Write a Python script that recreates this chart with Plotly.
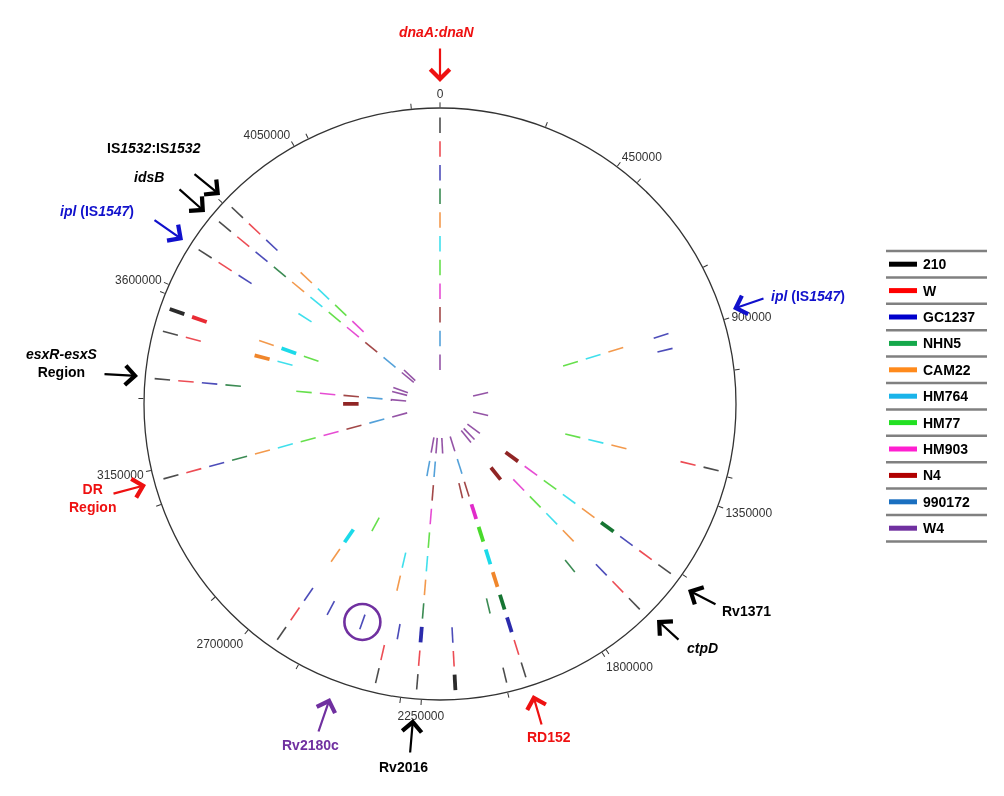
import plotly.graph_objects as go

GENOME_LEN = 4411532

# strains, outermost track first
strains = ["210", "W", "GC1237", "NHN5", "CAM22", "HM764", "HM77", "HM903", "N4", "990172", "W4"]
legend_colors = ["#000000", "#ff0000", "#0000cc", "#14a84a", "#ff8a1c", "#1ab4ea",
                 "#22e022", "#ff1fd0", "#b00000", "#1a6fc0", "#7030a0"]
track_colors = ["#202020", "#e8202a", "#2020a8", "#0a6e28", "#f08020", "#10d8e8",
                "#40d820", "#e020c8", "#8b1a1a", "#2a8ad0", "#7a2a90"]

# hit positions (bp) per strain
hits_210 = [0, 1268000, 1548000, 1664000, 1992000, 2041000, 2263000, 2365000, 2630000,
            3123000, 3371000, 3489000, 3708000, 3793000, 3840000]
hits_W = [0, 1268000, 1548000, 1664000, 1992000, 2168000, 2263000, 2365000, 2630000,
          3123000, 3371000, 3489000, 3708000, 3793000, 3840000]
hits_GC1237 = [0, 893000, 938000, 1548000, 1664000, 2168000, 2332000, 2446000, 2551000,
               2630000, 3123000, 3371000, 3708000, 3793000, 3840000]
hits_NHN5 = [0, 1731000, 2041000, 2263000, 3123000, 3371000, 3793000]
hits_CAM22 = [0, 893000, 1268000, 1548000, 1664000, 2263000, 2365000, 2630000, 3123000,
              3546000, 3793000, 3840000]
hits_HM764 = [0, 893000, 1268000, 1548000, 1664000, 2263000, 2365000, 3123000, 3489000,
              3708000, 3793000, 3840000]
hits_HM77 = [0, 893000, 1268000, 1548000, 1664000, 2263000, 2551000, 3123000, 3371000,
             3546000, 3793000, 3840000]
hits_HM903 = [0, 1548000, 1664000, 2263000, 3123000, 3371000, 3793000, 3840000]
hits_N4 = [0, 1992000, 2041000, 2263000, 3123000, 3371000, 3793000]
hits_990172 = [0, 1992000, 2263000, 2332000, 3123000, 3371000, 3793000]
hits_W4 = [0, 938000, 1268000, 1548000, 1664000, 1731000, 1992000, 2168000, 2263000,
           2332000, 3123000, 3371000, 3489000, 3546000, 3793000, 3840000]

# larger regions (drawn thick)
big_210 = [2168000, 3546000]
big_W = [3546000]
big_GC1237 = [1992000, 2263000]
big_NHN5 = [1548000, 1992000]
big_CAM22 = [1992000, 3489000]
big_HM764 = [1992000, 2630000, 3546000]
big_HM77 = [1992000]
big_HM903 = [1992000]
big_N4 = [1548000, 1731000, 3309000]
big_990172 = []
big_W4 = []

circled_strain = "GC1237"
circled_pos = 2446000

major_ticks = [0, 450000, 900000, 1350000, 1800000, 2250000, 2700000, 3150000, 3600000, 4050000]
minor_ticks = [255500, 511000, 766500, 1022000, 1277500, 1533000, 1788500, 2044000, 2299500,
               2555000, 2810500, 3066000, 3321500, 3577000, 3832500, 4088000, 4343500]

hits = [hits_210, hits_W, hits_GC1237, hits_NHN5, hits_CAM22, hits_HM764, hits_HM77,
        hits_HM903, hits_N4, hits_990172, hits_W4]
bigs = [big_210, big_W, big_GC1237, big_NHN5, big_CAM22, big_HM764, big_HM77,
        big_HM903, big_N4, big_990172, big_W4]

# page is 1004x796 and the html body has an 8px margin
PAD = 8
W, H = 1004 - PAD, 796 - PAD
R_MAX = 296          # radial units = pixels of the outer circle
RING_INNER = 34
RING_STEP = 23.7
DASH = 15.5
FONT = "Liberation Sans, Arial, sans-serif"


def deg(p):
    return 360.0 * p / GENOME_LEN


def ring_r0(k):
    return RING_INNER + RING_STEP * (len(strains) - 1 - k)


def px(x, y):
    # screen pixel -> paper coords
    return (x - PAD) / W, 1 - (y - PAD) / H


fig = go.Figure()
for k, name in enumerate(strains):
    r0 = ring_r0(k)
    for positions, width, alpha in ((hits[k], 1.6, 0.8), (bigs[k], 3.8, 0.95)):
        if not positions:
            continue
        rr, tt = [], []
        for p in positions:
            rr += [r0, r0 + DASH, None]
            tt += [deg(p), deg(p), None]
        fig.add_trace(go.Scatterpolar(
            r=rr, theta=tt, mode="lines", name=name, showlegend=False,
            line=dict(color=track_colors[k], width=width), opacity=alpha,
            hoverinfo="skip"))

# circle around the highlighted hit
kc = strains.index(circled_strain)
fig.add_trace(go.Scatterpolar(
    r=[ring_r0(kc) + DASH / 2], theta=[deg(circled_pos)], mode="markers",
    marker=dict(symbol="circle-open", size=36, color="#7030a0", line=dict(width=2.6)),
    showlegend=False, hoverinfo="skip"))

tickvals = [deg(t) for t in major_ticks] + [deg(t) for t in minor_ticks]
ticktext = [str(t) for t in major_ticks] + [""] * len(minor_ticks)

cx, cy = 440, 404
x0, y1 = px(cx - R_MAX, cy - R_MAX)
x1, y0 = px(cx + R_MAX, cy + R_MAX)
fig.update_layout(
    width=W, height=H,
    margin=dict(l=0, r=0, t=0, b=0),
    paper_bgcolor="white",
    showlegend=False,
    polar=dict(
        domain=dict(x=[x0, x1], y=[y0, y1]),
        bgcolor="white",
        radialaxis=dict(visible=False, range=[0, R_MAX]),
        angularaxis=dict(
            rotation=90, direction="clockwise", showgrid=False,
            showline=True, linecolor="#333333", linewidth=1.3,
            ticks="outside", ticklen=5, tickcolor="#333333", tickwidth=1,
            tickvals=tickvals, ticktext=ticktext,
            tickfont=dict(family=FONT, size=12, color="#333333"),
        ),
    ),
)

# callouts: label, label centre, arrow tail, arrow head, colour
callouts = [
    ("<b><i>dnaA:dnaN</i></b>", (437, 32), (440, 47), (440, 82), "#ee1111"),
    ("<b>IS<i>1532</i>:IS<i>1532</i></b>", (154, 148), (193, 173), (220, 195), "#000000"),
    ("<b><i>idsB</i></b>", (149, 177), (178, 188), (205, 212), "#000000"),
    ("<b><i>ipl</i> (IS<i>1547</i>)</b>", (97, 211), (153, 219), (183, 240), "#1111cc"),
    ("<b><i>esxR-esxS</i><br>Region</b>", (61, 363), (103, 374), (138, 376), "#000000"),
    ("<b>DR<br>Region</b>", (92, 498), (112, 494), (146, 485), "#ee1111"),
    ("<b>Rv2180c</b>", (310, 745), (318, 733), (330, 698), "#7030a0"),
    ("<b>Rv2016</b>", (403, 767), (410, 754), (413, 719), "#000000"),
    ("<b>RD152</b>", (549, 737), (542, 726), (533, 695), "#ee1111"),
    ("<b><i>ctpD</i></b>", (702, 648), (680, 641), (657, 620), "#000000"),
    ("<b>Rv1371</b>", (746, 611), (717, 605), (688, 590), "#000000"),
    ("<b><i>ipl</i> (IS<i>1547</i>)</b>", (808, 296), (765, 298), (733, 309), "#1111cc"),
]
for text, (tx, ty), (ax, ay), (hx, hy), col in callouts:
    x, y = px(tx, ty)
    fig.add_annotation(x=x, y=y, xref="paper", yref="paper", text=text, showarrow=False,
                       xanchor="center", yanchor="middle",
                       font=dict(family=FONT, size=14, color=col))
    x, y = px(hx, hy)
    fig.add_annotation(x=x, y=y, xref="paper", yref="paper", text="", showarrow=True,
                       ax=ax - hx, ay=ay - hy, arrowhead=4, arrowsize=1.7,
                       arrowwidth=2.2, arrowcolor=col, standoff=0)

# legend key drawn at the right
LEG_X0, LEG_X1, LEG_TOP, ROW = 886, 987, 251, 26.4
for i in range(len(strains) + 1):
    _, y = px(0, LEG_TOP + ROW * i)
    fig.add_shape(type="line", xref="paper", yref="paper",
                  x0=px(LEG_X0, 0)[0], x1=px(LEG_X1, 0)[0],
                  y0=y, y1=y, line=dict(color="#808080", width=2.5))
for k, name in enumerate(strains):
    _, y = px(0, LEG_TOP + ROW * (k + 0.5))
    fig.add_shape(type="line", xref="paper", yref="paper",
                  x0=px(889, 0)[0], x1=px(917, 0)[0],
                  y0=y, y1=y, line=dict(color=legend_colors[k], width=5))
    fig.add_annotation(x=px(921, 0)[0], y=y, xref="paper", yref="paper",
                       xanchor="left", yanchor="middle",
                       text="<b>%s</b>" % name, showarrow=False,
                       font=dict(family=FONT, size=14, color="#000000"))

fig.write_html("out.html")
